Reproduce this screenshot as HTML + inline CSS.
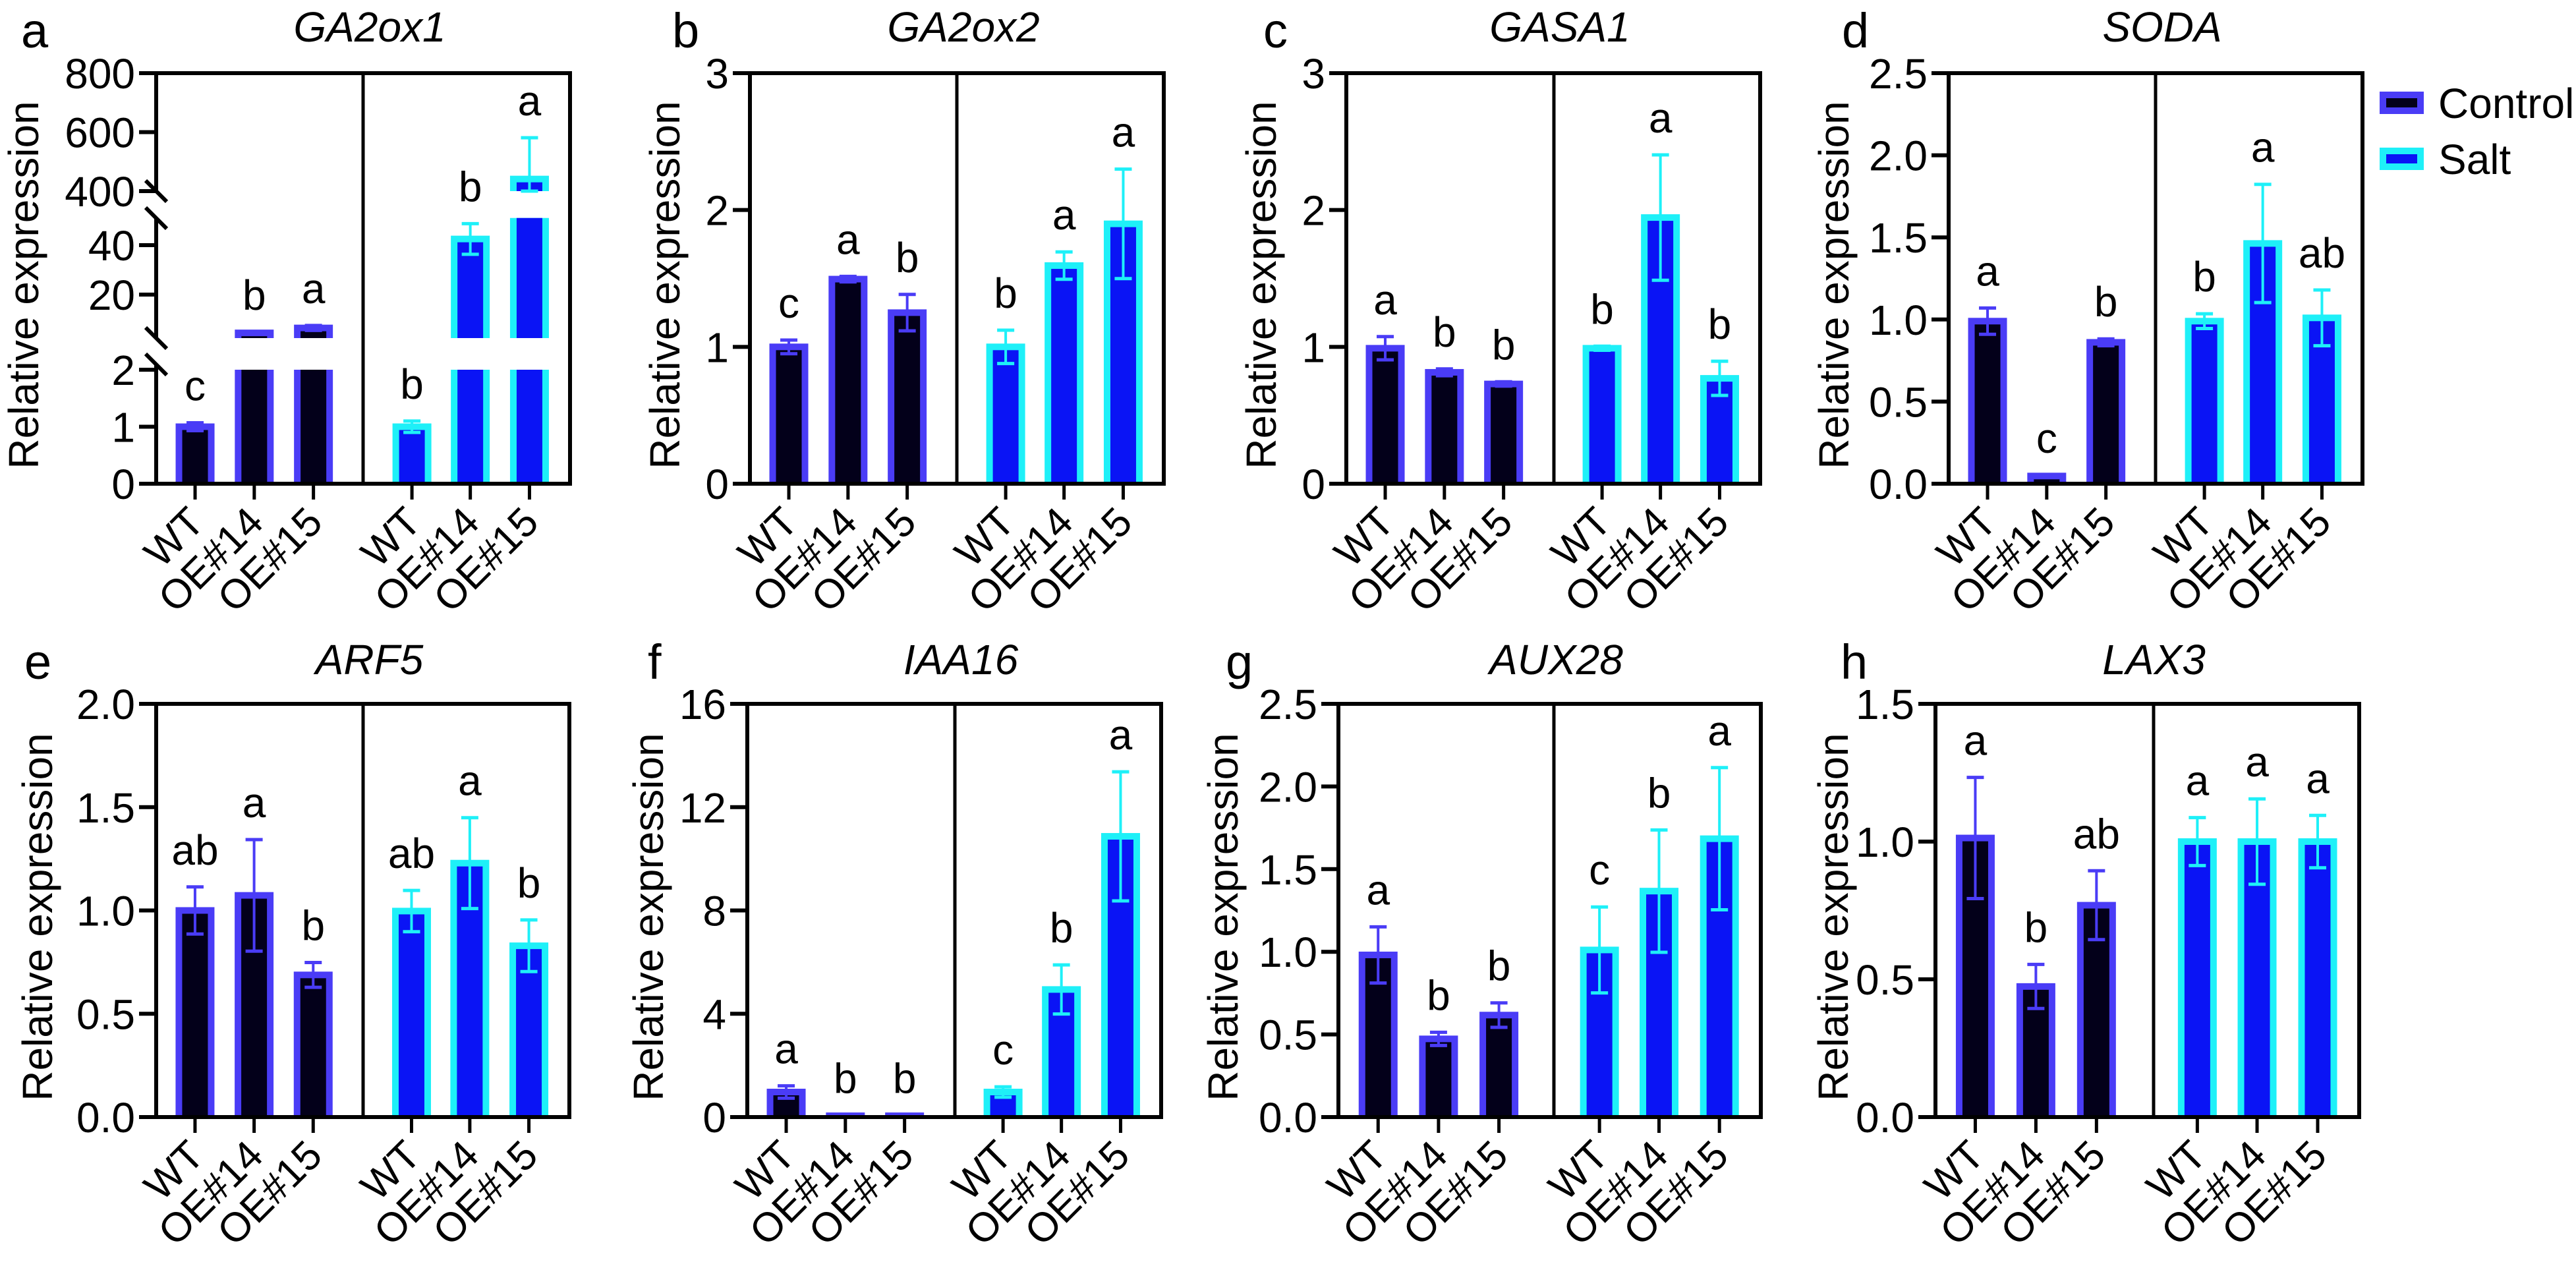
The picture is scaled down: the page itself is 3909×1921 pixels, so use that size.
<!DOCTYPE html>
<html><head><meta charset="utf-8"><style>
html,body{margin:0;padding:0;background:#fff;}
svg{display:block;font-family:"Liberation Sans",Arial,sans-serif;}
</style></head><body>
<svg id="fig" width="3909" height="1921" viewBox="0 0 3909 1921" xmlns="http://www.w3.org/2000/svg"></svg>
<script>
// ---------- data ----------
const categories = ['WT','OE#14','OE#15'];
const geneNames = ['GA2ox1','GA2ox2','GASA1','SODA','ARF5','IAA16','AUX28','LAX3'];
const panelLetters = ['a','b','c','d','e','f','g','h'];

const aCtrl = [1.0, 4.5, 6.5];      const aCtrlSd = [0.07, 0.3, 1.0];
const aSalt = [1.0, 42.5, 441];     const aSaltSd = [0.1, 6.2, 140];
const aLetters = ['c','b','a','b','b','a'];

const bCtrl = [1.0, 1.495, 1.25];   const bCtrlSd = [0.05, 0.02, 0.133];
const bSalt = [1.0, 1.594, 1.899];  const bSaltSd = [0.122, 0.1, 0.4];
const bLetters = ['c','a','b','b','a','a'];

const cCtrl = [0.99, 0.814, 0.729]; const cCtrlSd = [0.085, 0.025, 0.016];
const cSalt = [0.99, 1.945, 0.77];  const cSaltSd = [0.015, 0.458, 0.125];
const cLetters = ['a','b','b','b','a','b'];

const dCtrl = [0.99, 0.047, 0.861]; const dCtrlSd = [0.08, 0.005, 0.021];
const dSalt = [0.99, 1.463, 1.01];  const dSaltSd = [0.045, 0.36, 0.17];
const dLetters = ['a','c','b','b','a','ab'];

const eCtrl = [1.0, 1.073, 0.688];  const eCtrlSd = [0.114, 0.27, 0.06];
const eSalt = [0.997, 1.229, 0.829];const eSaltSd = [0.1, 0.22, 0.125];
const eLetters = ['ab','a','b','ab','a','b'];

const fCtrl = [0.97, 0.05, 0.05];   const fCtrlSd = [0.24, 0.01, 0.01];
const fSalt = [0.97, 4.94, 10.87];  const fSaltSd = [0.2, 0.95, 2.5];
const fLetters = ['a','b','b','c','b','a'];

const gCtrl = [0.981, 0.473, 0.617];const gCtrlSd = [0.17, 0.04, 0.074];
const gSalt = [1.011, 1.367, 1.684];const gSaltSd = [0.26, 0.37, 0.43];
const gLetters = ['a','b','b','c','b','a'];

const hCtrl = [1.013, 0.474, 0.769];const hCtrlSd = [0.22, 0.08, 0.125];
const hSalt = [1.0, 1.0, 1.0];      const hSaltSd = [0.087, 0.155, 0.095];
const hLetters = ['a','b','ab','a','a','a'];

const aTicks = [0, 1, 2, 20, 40, 400, 600, 800];
const bTicks = [0, 1, 2, 3];
const cTicks = [0, 1, 2, 3];
const dTicks = [0, 0.5, 1.0, 1.5, 2.0, 2.5];
const eTicks = [0, 0.5, 1.0, 1.5, 2.0];
const fTicks = [0, 4, 8, 12, 16];
const gTicks = [0, 0.5, 1.0, 1.5, 2.0, 2.5];
const hTicks = [0, 0.5, 1.0, 1.5];
const aTickLabels = ['0','1','2','20','40','400','600','800'];
const bTickLabels = ['0','1','2','3'];
const cTickLabels = ['0','1','2','3'];
const dTickLabels = ['0.0','0.5','1.0','1.5','2.0','2.5'];
const eTickLabels = ['0.0','0.5','1.0','1.5','2.0'];
const fTickLabels = ['0','4','8','12','16'];
const gTickLabels = ['0.0','0.5','1.0','1.5','2.0','2.5'];
const hTickLabels = ['0.0','0.5','1.0','1.5'];
const yMaxes = [800, 3, 3, 2.5, 2.0, 16, 2.5, 1.5];
const legendLabels = ['Control','Salt'];

// ---------- style / layout ----------
const CTRL_EDGE = '#4a3cf6', CTRL_FILL = '#03001a';
const SALT_EDGE = '#1ef0f8', SALT_FILL = '#0a14f5';
const FS = 64;
const CAT_FS = 62;
const NS = 'http://www.w3.org/2000/svg';
const svg = document.getElementById('fig');

const rowGeom = [{T:111, B:734, titleY:63, letterY:72}, {T:1068, B:1695, titleY:1023, letterY:1030}];
const layout = [
  {L:237, D:551, R:865, row:0, yt:35, lx:32},
  {L:1138, D:1452, R:1766, row:0, yt:1008, lx:1020},
  {L:2043, D:2358, R:2671, row:0, yt:1913, lx:1917},
  {L:2957, D:3271, R:3585, row:0, yt:2782, lx:2795},
  {L:237, D:551, R:864, row:1, yt:56, lx:37},
  {L:1134, D:1449, R:1762, row:1, yt:983, lx:983},
  {L:2031, D:2358, R:2672, row:1, yt:1855, lx:1860},
  {L:2937, D:3268, R:3580, row:1, yt:2781, lx:2793}
];
const catFrac = [0.094, 0.237, 0.380, 0.618, 0.759, 0.902];

const ctrlData = [aCtrl,bCtrl,cCtrl,dCtrl,eCtrl,fCtrl,gCtrl,hCtrl];
const ctrlSd = [aCtrlSd,bCtrlSd,cCtrlSd,dCtrlSd,eCtrlSd,fCtrlSd,gCtrlSd,hCtrlSd];
const saltData = [aSalt,bSalt,cSalt,dSalt,eSalt,fSalt,gSalt,hSalt];
const saltSd = [aSaltSd,bSaltSd,cSaltSd,dSaltSd,eSaltSd,fSaltSd,gSaltSd,hSaltSd];
const letterSets = [aLetters,bLetters,cLetters,dLetters,eLetters,fLetters,gLetters,hLetters];
const tickSets = [aTicks,bTicks,cTicks,dTicks,eTicks,fTicks,gTicks,hTicks];
const tickLabelSets = [aTickLabels,bTickLabels,cTickLabels,dTickLabels,eTickLabels,fTickLabels,gTickLabels,hTickLabels];

function mk(tag, attrs, parent) {
  const el = document.createElementNS(NS, tag);
  for (const k in attrs) el.setAttribute(k, attrs[k]);
  (parent || svg).appendChild(el);
  return el;
}
function line(x1,y1,x2,y2,w,col,parent,name){
  const el = mk('line',{x1:x1,y1:y1,x2:x2,y2:y2,stroke:col,'stroke-width':w},parent);
  
  
  return el;
}
function txt(x,y,s,size,anchor,parent,name,extra){
  const el = mk('text',Object.assign({x:x,y:y,'font-size':size,'text-anchor':anchor,fill:'#000'},extra||{}),parent);
  el.textContent = s;
  
  
  return el;
}

// broken axis for panel a
const aSegs = [[0,2],[2.4,51],[400,800]];
function aScale(v){
  if (v <= 2.2) return 734 - v*86.5;
  if (v <= 100) return 447 - (v-20)*3.75;
  return 290 - (v-400)*0.4475;
}
function segOf(v){ return v <= 2.2 ? 0 : (v <= 100 ? 1 : 2); }

function drawBarPiece(g, cx, yTop, yBot, realTop, edge, fill){
  const oy = realTop ? yTop-5 : yTop;
  const o = mk('rect',{x:cx-29.5, y:oy, width:59, height:Math.max(0,yBot-oy), fill:edge}, g);
  
  
  const iy = realTop ? yTop+5 : yTop;
  const i = mk('rect',{x:cx-19.5, y:iy, width:39, height:Math.max(0,yBot-iy), fill:fill}, g);
  
  
}

for (let p = 0; p < 8; p++) {
  const lay = layout[p], rg = rowGeom[lay.row];
  const T = rg.T, B = rg.B, L = lay.L, R = lay.R, D = lay.D;
  const broken = (p === 0);
  const ymax = yMaxes[p];
  const yS = broken ? aScale : (v => B - (v/ymax)*(B-T));
  const g = mk('g',{});
  
  

  txt(lay.lx, rg.letterY, panelLetters[p], 74, 'start', g, 'panel-label');
  txt((L+R)/2 + 10, rg.titleY, geneNames[p], FS, 'middle', g, 'gene-title', {'font-style':'italic'});
  const midY = (T+B)/2 + 10;
  txt(lay.yt + 23, midY, 'Relative expression', FS, 'middle', g, 'y-axis-title', {transform:'rotate(-90 '+(lay.yt+23)+' '+midY+')'});

  const xs = catFrac.map(f => L + f*(R-L));
  for (let k = 0; k < 6; k++) {
    const ctrl = k < 3;
    const m = ctrl ? ctrlData[p][k] : saltData[p][k-3];
    const sd = ctrl ? ctrlSd[p][k] : saltSd[p][k-3];
    const edge = ctrl ? CTRL_EDGE : SALT_EDGE, fill = ctrl ? CTRL_FILL : SALT_FILL;
    const cx = xs[k];
    const bg = mk('g',{}, g);
    
    
    if (!broken) {
      drawBarPiece(bg, cx, yS(m), B, true, edge, fill);
    } else {
      for (let s = 0; s < aSegs.length; s++) {
        const lo = aSegs[s][0], hi = aSegs[s][1];
        if (m > lo) {
          const top = Math.min(m, hi);
          drawBarPiece(bg, cx, aScale(top), s===0 ? B : aScale(lo), m <= hi, edge, fill);
        }
      }
    }
    let hiV = m + sd, loV = m - sd;
    if (broken) { const s = segOf(m); loV = Math.max(loV, aSegs[s][0]); }
    const yh = yS(hiV), yl = yS(Math.max(loV, 0));
    line(cx, yh, cx, yl, 4, edge, bg, 'error-bar');
    line(cx-13, yh, cx+13, yh, 5, edge, bg, 'error-cap-upper');
    line(cx-13, yl, cx+13, yl, 5, edge, bg, 'error-cap-lower');
    txt(cx, yh - 34, letterSets[p][k], FS, 'middle', g, 'significance-letter');
    line(cx, B, cx, B+24, 5, '#000', g, 'x-tick');
    const ax = cx + 17, ay = B + 62;
    txt(ax, ay, categories[k%3], CAT_FS, 'end', g, 'x-tick-label', {transform:'rotate(-45 '+ax+' '+ay+')'});
  }

  line(L-26, B, R+3, B, 6, '#000', g, 'x-axis');
  line(L, T, R+3, T, 6, '#000', g, 'frame-top');
  line(R, T-3, R, B+3, 6, '#000', g, 'frame-right');
  line(D, T, D, B, 5, '#000', g, 'group-divider');
  if (!broken) {
    line(L, T-3, L, B+3, 6, '#000', g, 'y-axis');
  } else {
    line(L, B+3, L, 553, 6, '#000', g, 'y-axis-lower');
    line(L, 513, L, 331, 6, '#000', g, 'y-axis-middle');
    line(L, 290, L, T-3, 6, '#000', g, 'y-axis-upper');
    [553, 513, 331, 290].forEach(yb => {
      line(L-16, yb-16, L+16, yb+16, 6, '#000', g, 'axis-break-mark');
    });
  }
  const tks = tickSets[p], tls = tickLabelSets[p];
  for (let t = 0; t < tks.length; t++) {
    const y = yS(tks[t]);
    line(L-26, y, L, y, 6, '#000', g, 'y-tick');
    txt(L-32, y+23, tls[t], FS, 'end', g, 'y-tick-label');
  }
}

// legend
const lg = mk('g',{});


const legY = [139, 224];
const legEdge = [CTRL_EDGE, SALT_EDGE], legFill = [CTRL_FILL, SALT_FILL];
for (let i = 0; i < 2; i++) {
  const o = mk('rect',{x:3611, y:legY[i], width:67, height:34, fill:legEdge[i]}, lg);
  
  
  const inn = mk('rect',{x:3621, y:legY[i]+10, width:47, height:14, fill:legFill[i]}, lg);
  
  
  txt(3700, legY[i]+40, legendLabels[i], 64, 'start', lg, 'legend-entry');
}
</script>
</body></html>
